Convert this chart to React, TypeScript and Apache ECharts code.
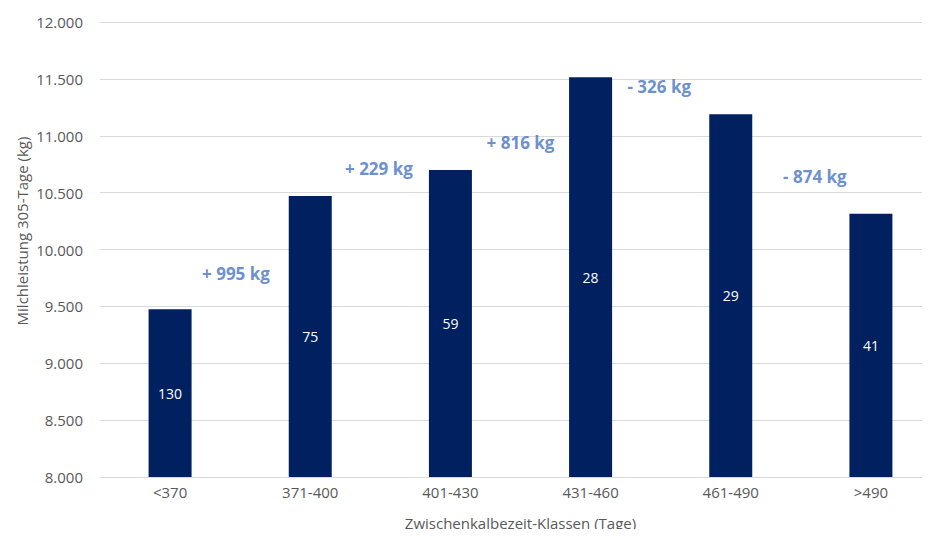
import React, { useEffect, useRef } from "react";
import * as echarts from "echarts";

const categories = ["<370", "371-400", "401-430", "431-460", "461-490", ">490"];
const milkYield = [9475, 10470, 10699, 11515, 11189, 10315];
const cowCounts = [130, 75, 59, 28, 29, 41];
const diffLabels = ["+ 995 kg", "+ 229 kg", "+ 816 kg", "- 326 kg", "- 874 kg"];
const diffX = [0.97, 1.99, 3.0, 3.99, 5.1];
const diffY = [9785, 10716, 10945, 11429, 10646];

const FONT = "'Open Sans', 'Noto Sans', sans-serif";

function fmt(v: number) {
  const s = String(Math.round(v));
  return s.replace(/\B(?=(\d{3})+(?!\d))/g, ".");
}

export default function App() {
  const ref = useRef<HTMLDivElement>(null);
  useEffect(() => {
    if (!ref.current) return;
    const chart = echarts.init(ref.current, null, { renderer: "svg" });
    chart.setOption({
      animation: false,
      backgroundColor: "#ffffff",
      textStyle: { fontFamily: FONT },
      grid: { left: 100, right: 4, top: 22, bottom: 60, containLabel: false },
      xAxis: [
        {
          type: "category",
          data: categories,
          axisLine: { lineStyle: { color: "#d9d9d9", width: 1 } },
          axisTick: { show: false },
          axisLabel: { color: "#595959", fontSize: 15, fontFamily: FONT, margin: 7 },
          name: "Zwischenkalbezeit-Klassen (Tage)",
          nameLocation: "middle",
          nameGap: 38,
          nameTextStyle: { color: "#595959", fontSize: 15, fontFamily: FONT },
        },
        {
          type: "value",
          min: 0,
          max: 6,
          show: false,
        },
      ],
      yAxis: {
        type: "value",
        min: 8000,
        max: 12000,
        interval: 500,
        axisLine: { show: false },
        axisTick: { show: false },
        splitLine: { lineStyle: { color: "#d9d9d9", width: 1 } },
        axisLabel: {
          color: "#595959",
          fontSize: 15,
          fontFamily: FONT,
          margin: 17,
          formatter: (v: number) => fmt(v),
        },
      },
      graphic: [
        {
          type: "text",
          x: 22,
          y: 231,
          rotation: Math.PI / 2,
          style: {
            text: "Milchleistung 305-Tage (kg)",
            fill: "#595959",
            font: `15px ${FONT}`,
            textAlign: "center",
            textVerticalAlign: "middle",
          },
        },
      ],
      series: [
        {
          type: "bar",
          xAxisIndex: 0,
          data: milkYield,
          barWidth: 43,
          itemStyle: { color: "#002060" },
          label: {
            show: true,
            position: "inside",
            color: "#ffffff",
            fontSize: 14,
            fontFamily: FONT,
            formatter: (p: any) => String(cowCounts[p.dataIndex]),
          },
        },
        {
          type: "scatter",
          xAxisIndex: 1,
          symbolSize: 0,
          data: diffLabels.map((t, i) => [diffX[i], diffY[i], t]),
          label: {
            show: true,
            position: "inside",
            color: "#4472C4",
            fontSize: 17,
            fontWeight: "bold",
            fontFamily: FONT,
            formatter: (p: any) => p.data[2],
          },
          silent: true,
        },
      ],
    });
    return () => chart.dispose();
  }, []);
  return (
    <div style={{ width: 930, height: 537, margin: -8, overflow: "hidden", position: "relative" }}>
      <div ref={ref} style={{ width: 945, height: 537 }} />
    </div>
  );
}
